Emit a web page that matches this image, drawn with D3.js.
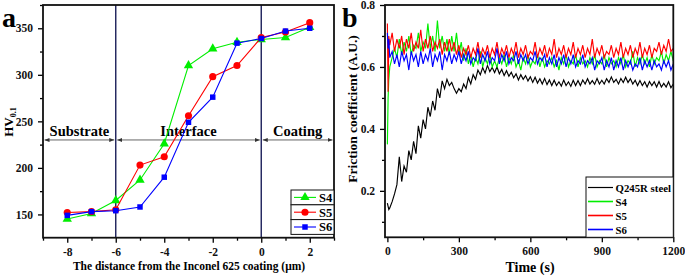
<!DOCTYPE html>
<html>
<head>
<meta charset="utf-8">
<script src="https://cdn.jsdelivr.net/npm/d3@7"></script>
<style>
  body { margin: 0; background: #fff; }
  svg { display: block; }
</style>
</head>
<body>
<div id="chart"></div>
<script>
// ---- panel a : micro hardness across the interface ----
const distance = [-8, -7, -6, -5, -4, -3, -2, -1, 0, 1, 2];
const hvS4 = [145, 151, 165, 187, 226, 310, 328, 335, 338, 340, 351];
const hvS5 = [152, 153, 155, 203, 212, 256, 298, 310, 340, 346, 356];
const hvS6 = [149, 153, 154, 158, 190, 249, 276, 334, 339, 347, 350];
const hardSeries = ["S4", "S5", "S6"];
const zoneLabels = ["Substrate", "Interface", "Coating"];
const zoneBounds = [[-9, -6], [-6, 0], [0, 3]];
const zoneLines = [-6, 0];
const xTicksA = [-8, -6, -4, -2, 0, 2];
const yTicksA = [150, 200, 250, 300, 350];

// ---- panel b : friction coefficient vs time ----
const time = [0, 3, 6,
  10, 20, 30, 40, 50, 60, 70, 80, 90, 100,
  110, 120, 130, 140, 150, 160, 170, 180, 190, 200,
  210, 220, 230, 240, 250, 260, 270, 280, 290, 300,
  310, 320, 330, 340, 350, 360, 370, 380, 390, 400,
  410, 420, 430, 440, 450, 460, 470, 480, 490, 500,
  510, 520, 530, 540, 550, 560, 570, 580, 590, 600,
  610, 620, 630, 640, 650, 660, 670, 680, 690, 700,
  710, 720, 730, 740, 750, 760, 770, 780, 790, 800,
  810, 820, 830, 840, 850, 860, 870, 880, 890, 900,
  910, 920, 930, 940, 950, 960, 970, 980, 990, 1000,
  1010, 1020, 1030, 1040, 1050, 1060, 1070, 1080, 1090, 1100,
  1110, 1120, 1130, 1140, 1150, 1160, 1170, 1180, 1190, 1200];
const cofQ245R = [0.16, 0.15, 0.14,
  0.145, 0.165, 0.19, 0.22, 0.31, 0.23, 0.28, 0.26, 0.33, 0.30,
  0.36, 0.32, 0.41, 0.37, 0.43, 0.40, 0.47, 0.44, 0.49, 0.46,
  0.53, 0.50, 0.555, 0.53, 0.56, 0.54, 0.55, 0.53, 0.515, 0.53,
  0.52, 0.545, 0.53, 0.565, 0.545, 0.575, 0.56, 0.59, 0.575, 0.598,
  0.58, 0.605, 0.585, 0.598, 0.582, 0.60, 0.578, 0.592, 0.572, 0.588,
  0.57, 0.583, 0.565, 0.578, 0.558, 0.575, 0.56, 0.572, 0.555, 0.568,
  0.55, 0.567, 0.548, 0.562, 0.545, 0.563, 0.543, 0.558, 0.54, 0.557,
  0.54, 0.552, 0.538, 0.558, 0.54, 0.552, 0.537, 0.557, 0.54, 0.556,
  0.54, 0.558, 0.545, 0.562, 0.545, 0.556, 0.544, 0.563, 0.545, 0.557,
  0.545, 0.562, 0.55, 0.568, 0.55, 0.56, 0.545, 0.563, 0.55, 0.567,
  0.55, 0.562, 0.545, 0.557, 0.54, 0.556, 0.54, 0.552, 0.535, 0.553,
  0.54, 0.552, 0.535, 0.553, 0.535, 0.547, 0.535, 0.552, 0.533, 0.545];
const cofS4 = [0.35, 0.50, 0.56,
  0.60, 0.63, 0.66, 0.63, 0.69, 0.64, 0.68, 0.65, 0.70, 0.64,
  0.67, 0.66, 0.71, 0.65, 0.68, 0.66, 0.74, 0.66, 0.70, 0.65,
  0.75, 0.66, 0.70, 0.65, 0.69, 0.64, 0.70, 0.65, 0.71, 0.64,
  0.68, 0.62, 0.66, 0.61, 0.64, 0.60, 0.63, 0.61, 0.65, 0.60,
  0.63, 0.61, 0.64, 0.60, 0.62, 0.60, 0.63, 0.61, 0.64, 0.60,
  0.63, 0.61, 0.64, 0.60, 0.62, 0.59, 0.63, 0.61, 0.64, 0.60,
  0.62, 0.61, 0.64, 0.60, 0.63, 0.60, 0.62, 0.61, 0.63, 0.60,
  0.62, 0.59, 0.63, 0.61, 0.64, 0.60, 0.62, 0.61, 0.64, 0.60,
  0.63, 0.61, 0.62, 0.60, 0.63, 0.61, 0.64, 0.60, 0.62, 0.61,
  0.64, 0.60, 0.63, 0.61, 0.62, 0.60, 0.63, 0.61, 0.64, 0.60,
  0.62, 0.61, 0.65, 0.60, 0.63, 0.61, 0.64, 0.61, 0.63, 0.60,
  0.64, 0.61, 0.63, 0.62, 0.65, 0.61, 0.64, 0.62, 0.65, 0.62];
const cofS5 = [0.74, 0.52, 0.70,
  0.67, 0.71, 0.65, 0.69, 0.66, 0.70, 0.64, 0.69, 0.66, 0.71,
  0.65, 0.68, 0.66, 0.72, 0.65, 0.69, 0.66, 0.70, 0.65, 0.68,
  0.66, 0.69, 0.64, 0.68, 0.65, 0.69, 0.65, 0.68, 0.64, 0.67,
  0.63, 0.66, 0.64, 0.67, 0.63, 0.66, 0.64, 0.68, 0.63, 0.66,
  0.64, 0.67, 0.63, 0.66, 0.64, 0.68, 0.63, 0.66, 0.64, 0.67,
  0.63, 0.66, 0.64, 0.68, 0.63, 0.66, 0.64, 0.67, 0.63, 0.65,
  0.64, 0.68, 0.63, 0.66, 0.64, 0.67, 0.63, 0.66, 0.64, 0.69,
  0.63, 0.66, 0.64, 0.67, 0.63, 0.66, 0.64, 0.68, 0.63, 0.66,
  0.64, 0.67, 0.63, 0.66, 0.64, 0.69, 0.63, 0.66, 0.64, 0.67,
  0.63, 0.65, 0.64, 0.67, 0.63, 0.66, 0.64, 0.68, 0.63, 0.66,
  0.64, 0.67, 0.63, 0.66, 0.64, 0.68, 0.63, 0.66, 0.64, 0.67,
  0.63, 0.66, 0.65, 0.68, 0.64, 0.67, 0.65, 0.69, 0.65, 0.66];
const cofS6 = [0.71, 0.66, 0.69,
  0.63, 0.65, 0.61, 0.64, 0.60, 0.65, 0.62, 0.64, 0.59, 0.65,
  0.62, 0.64, 0.60, 0.65, 0.61, 0.64, 0.62, 0.66, 0.60, 0.64,
  0.62, 0.65, 0.59, 0.64, 0.62, 0.65, 0.61, 0.64, 0.62, 0.65,
  0.61, 0.64, 0.62, 0.65, 0.61, 0.63, 0.62, 0.66, 0.61, 0.64,
  0.62, 0.65, 0.61, 0.63, 0.62, 0.66, 0.61, 0.64, 0.62, 0.65,
  0.61, 0.63, 0.62, 0.65, 0.61, 0.64, 0.62, 0.64, 0.61, 0.63,
  0.62, 0.65, 0.61, 0.63, 0.62, 0.64, 0.60, 0.63, 0.61, 0.64,
  0.60, 0.63, 0.61, 0.64, 0.60, 0.63, 0.61, 0.64, 0.60, 0.62,
  0.61, 0.64, 0.60, 0.62, 0.61, 0.63, 0.59, 0.62, 0.61, 0.63,
  0.59, 0.62, 0.60, 0.63, 0.59, 0.62, 0.60, 0.63, 0.59, 0.62,
  0.60, 0.62, 0.59, 0.61, 0.60, 0.63, 0.59, 0.62, 0.60, 0.62,
  0.59, 0.62, 0.60, 0.61, 0.59, 0.62, 0.60, 0.62, 0.59, 0.61];
const cofSeries = ["Q245R steel", "S4", "S5", "S6"];
const xTicksB = [0, 300, 600, 900, 1200];
const yTicksB = [0.2, 0.4, 0.6, 0.8];

const colors = { "Q245R steel": "#000000", S4: "#00ee00", S5: "#ff0000", S6: "#0000ff" };
const FONT = "'Liberation Serif', 'Times New Roman', 'DejaVu Serif', serif";

const W = 685, H = 276;
const svg = d3.select("#chart").append("svg")
    .attr("width", W)
    .attr("height", H)
    .attr("font-family", FONT)
    .attr("font-weight", "bold");

const defs = svg.append("defs");
defs.append("marker")
    .attr("id", "arr")
    .attr("viewBox", "0 0 6 6")
    .attr("refX", 6).attr("refY", 3)
    .attr("markerWidth", 5).attr("markerHeight", 5)
    .attr("orient", "auto-start-reverse")
    .append("path")
    .attr("d", "M0,0.5 L6,3 L0,5.5 Z")
    .attr("fill", "#333");

// helper for framed axes with outward major + minor ticks
function drawFrame(g, x, y, xMaj, xMin, yMaj, yMin, fmtX, fmtY) {
    const [x0, x1] = x.range(), [y0, y1] = y.range();
    g.append("g")
        .attr("transform", `translate(0,${y0})`)
        .call(d3.axisBottom(x).tickValues(xMin).tickSize(3).tickFormat("").tickSizeOuter(0))
        .call(a => a.select(".domain").remove());
    g.append("g")
        .attr("transform", `translate(0,${y0})`)
        .call(d3.axisBottom(x).tickValues(xMaj).tickSize(5).tickPadding(5).tickFormat(fmtX).tickSizeOuter(0))
        .call(a => a.select(".domain").remove());
    g.append("g")
        .attr("transform", `translate(${x0},0)`)
        .call(d3.axisLeft(y).tickValues(yMin).tickSize(3).tickFormat("").tickSizeOuter(0))
        .call(a => a.select(".domain").remove());
    g.append("g")
        .attr("transform", `translate(${x0},0)`)
        .call(d3.axisLeft(y).tickValues(yMaj).tickSize(5).tickPadding(5).tickFormat(fmtY).tickSizeOuter(0))
        .call(a => a.select(".domain").remove());
    g.selectAll("g.tick text")
        .style("font-family", FONT)
        .style("font-weight", "bold")
        .style("font-size", "11.5px")
        .attr("fill", "#111");
    g.selectAll(".tick line").attr("stroke-width", 1.3);
    g.append("rect")
        .attr("x", x0).attr("y", y1)
        .attr("width", x1 - x0).attr("height", y0 - y1)
        .attr("fill", "none").attr("stroke", "#111").attr("stroke-width", 1.8);
}

// ================= panel a =================
const xA = d3.scaleLinear().domain([-9, 3]).range([43, 334]);
const yA = d3.scaleLinear().domain([125, 375]).range([237.7, 5]);
const gA = svg.append("g");

// zone boundaries
gA.selectAll(".zone-line")
    .data(zoneLines)
  .enter().append("line")
    .attr("x1", d => xA(d)).attr("x2", d => xA(d))
    .attr("y1", yA(375)).attr("y2", yA(125))
    .attr("stroke", "#1c1f5a").attr("stroke-width", 1.4);

// zone arrows + labels
const zones = zoneLabels.map((name, i) => ({ name, from: zoneBounds[i][0], to: zoneBounds[i][1] }));
gA.selectAll(".zone-arrow")
    .data(zones)
  .enter().append("line")
    .attr("x1", d => xA(d.from) + 1.5).attr("x2", d => xA(d.to) - 1.5)
    .attr("y1", yA(230)).attr("y2", yA(230))
    .attr("stroke", "#666").attr("stroke-width", 1)
    .attr("marker-start", "url(#arr)").attr("marker-end", "url(#arr)");
gA.selectAll(".zone-label")
    .data(zones)
  .enter().append("text")
    .attr("x", d => (xA(d.from) + xA(d.to)) / 2)
    .attr("y", yA(230) - 3.5)
    .attr("text-anchor", "middle")
    .style("font-size", "14.5px")
    .text(d => d.name);

const hardData = [hvS4, hvS5, hvS6].map((vals, i) => ({
    name: hardSeries[i],
    points: vals.map((v, j) => ({ x: distance[j], y: v }))
}));
const hardLine = d3.line().x(d => xA(d.x)).y(d => yA(d.y));

const symbolFor = { S4: d3.symbolTriangle, S5: d3.symbolCircle, S6: d3.symbolSquare };
const symbolSize = { S4: 38, S5: 40, S6: 30 };

hardData.forEach(s => {
    gA.append("path")
        .datum(s.points)
        .attr("d", hardLine)
        .attr("fill", "none")
        .attr("stroke", colors[s.name])
        .attr("stroke-width", 1.1);
    gA.selectAll(null)
        .data(s.points)
      .enter().append("path")
        .attr("transform", d => `translate(${xA(d.x)},${yA(d.y)})`)
        .attr("d", d3.symbol().type(symbolFor[s.name]).size(symbolSize[s.name]))
        .attr("fill", colors[s.name]);
});

drawFrame(gA, xA, yA, xTicksA, [-9, -7, -5, -3, -1, 1, 3], yTicksA, [175, 225, 275, 325, 375],
    d => d, d => d);

// legend a
const legA = gA.append("g").attr("transform", "translate(291,190)");
hardSeries.forEach((name, i) => {
    const row = legA.append("g").attr("transform", `translate(0,${i * 14.8})`);
    row.append("rect").attr("width", 43).attr("height", 14.8)
        .attr("fill", "#fff").attr("stroke", "#111").attr("stroke-width", 1);
    row.append("line").attr("x1", 3).attr("x2", 25).attr("y1", 7.4).attr("y2", 7.4)
        .attr("stroke", colors[name]).attr("stroke-width", 1.1);
    row.append("path")
        .attr("transform", "translate(14,7.4)")
        .attr("d", d3.symbol().type(symbolFor[name]).size(symbolSize[name]))
        .attr("fill", colors[name]);
    row.append("text").attr("x", 28).attr("y", 11.8)
        .style("font-size", "12.5px").text(name);
});

// labels a
svg.append("text").attr("x", 2).attr("y", 27).style("font-size", "28px").text("a");
svg.append("text")
    .attr("transform", `translate(13,${122}) rotate(-90)`)
    .attr("text-anchor", "middle")
    .style("font-size", "13px")
    .call(t => {
        t.append("tspan").text("HV");
        t.append("tspan").attr("dy", 3).style("font-size", "8px").text("0.1");
    });
svg.append("text")
    .attr("x", 189).attr("y", 270)
    .attr("text-anchor", "middle")
    .style("font-size", "11.5px")
    .text("The distance from the Inconel 625 coating (\u03bcm)");

// ================= panel b =================
const xB = d3.scaleLinear().domain([-10, 1200]).range([385, 673.3]);
const yB = d3.scaleLinear().domain([0.05, 0.8]).range([237.3, 5]);
const gB = svg.append("g");

const cofData = [cofQ245R, cofS4, cofS5, cofS6].map((vals, i) => ({
    name: cofSeries[i],
    points: vals.map((v, j) => ({ t: time[j], v }))
}));
const cofLine = d3.line().x(d => xB(d.t)).y(d => yB(d.v));

gB.selectAll(".cof")
    .data(cofData)
  .enter().append("path")
    .attr("d", d => cofLine(d.points))
    .attr("fill", "none")
    .attr("stroke", d => colors[d.name])
    .attr("stroke-width", 1.15)
    .attr("stroke-linejoin", "miter");

drawFrame(gB, xB, yB, xTicksB, [150, 450, 750, 1050], yTicksB, [0.1, 0.3, 0.5, 0.7],
    d => d, d3.format(".1f"));

// legend b
const legB = gB.append("g").attr("transform", "translate(586,177)");
legB.append("rect").attr("width", 87.3).attr("height", 60.3)
    .attr("fill", "#fff").attr("stroke", "#111").attr("stroke-width", 1);
cofSeries.forEach((name, i) => {
    const yy = 10.5 + i * 14;
    legB.append("line").attr("x1", 2).attr("x2", 27).attr("y1", yy).attr("y2", yy)
        .attr("stroke", colors[name]).attr("stroke-width", name === "Q245R steel" ? 1.2 : 1.6);
    legB.append("text").attr("x", 29.5).attr("y", yy + 4)
        .style("font-size", "10.8px").text(name);
});

// labels b
svg.append("text").attr("x", 342).attr("y", 27).style("font-size", "28px").text("b");
svg.append("text")
    .attr("transform", `translate(357,109) rotate(-90)`)
    .attr("text-anchor", "middle")
    .style("font-size", "13.5px")
    .text("Friction coefficient (A.U.)");
svg.append("text")
    .attr("x", 530).attr("y", 272)
    .attr("text-anchor", "middle")
    .style("font-size", "14px")
    .text("Time (s)");
</script>
</body>
</html>
